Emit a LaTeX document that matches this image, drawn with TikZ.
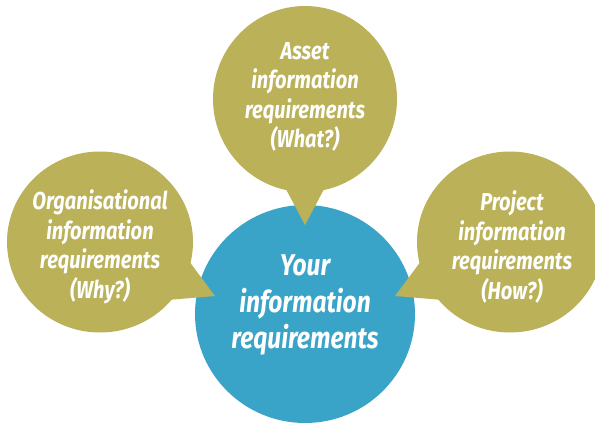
\documentclass[tikz,border=0pt]{standalone}
\usepackage{fontspec}
\setmainfont{Fira Sans}[FakeStretch=0.82]
\usetikzlibrary{shapes.geometric}
\definecolor{olive}{RGB}{186,177,88}
\definecolor{sky}{RGB}{58,164,200}
\begin{document}
\begin{tikzpicture}[x=1pt,y=-1pt,
  bubble/.style={ellipse,fill=olive,draw=none,inner sep=0pt},
  core/.style={ellipse,fill=sky,draw=none,inner sep=0pt,
    minimum width=220pt,minimum height=218pt},
  btext/.style={text=white,align=center,inner sep=0pt,
    font=\fontsize{24.5}{29.5}\selectfont\bfseries\itshape},
  ctext/.style={text=white,align=center,inner sep=0pt,
    font=\fontsize{30}{36.5}\selectfont\bfseries\itshape}]
\useasboundingbox (0,0) rectangle (595,426);
% central circle
\node[core] (you) at (305,314) {};
% three speech bubbles
\node[bubble,minimum width=184pt,minimum height=186pt] (asset) at (305,99) {};
\node[bubble,minimum width=186pt,minimum height=181pt] (org) at (100,242) {};
\node[bubble,minimum width=186pt,minimum height=181pt] (proj) at (510,242) {};
% pointer tips touching the centre circle
\coordinate (tipA) at (305,225);
\coordinate (tipO) at (215,296);
\coordinate (tipP) at (395,296);
\fill[olive] (279,176) -- (tipA) -- (331,176) -- cycle;
\fill[olive] (177,245) -- (tipO) -- (155,301) -- cycle;
\fill[olive] (433,245) -- (tipP) -- (455,301) -- cycle;
% texts
\node[btext] (assetT) at (305,97) {Asset\\information\\requirements\\(What?)};
\node[btext] (orgT) at (100,247) {Organisational\\information\\requirements\\(Why?)};
\node[btext] (projT) at (512,247) {Project\\information\\requirements\\(How?)};
\node[ctext] (youT) at (305,305) {Your\\information\\requirements};
\end{tikzpicture}
\end{document}
